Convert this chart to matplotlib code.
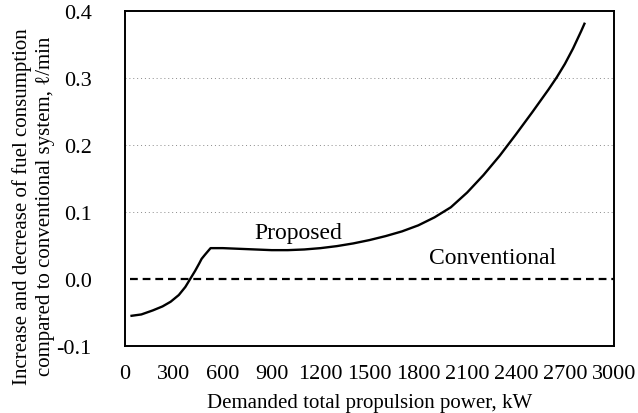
import matplotlib
matplotlib.use("Agg")
import matplotlib.pyplot as plt

plt.rcParams['font.family'] = ['Liberation Serif', 'DejaVu Serif']

# Demanded total propulsion power, kW
power_proposed = [40, 100, 170, 230, 280, 330, 370, 400, 430, 455, 470, 490, 525,
                  600, 700, 800, 900, 1000, 1100, 1200, 1300, 1400, 1500, 1600,
                  1700, 1800, 1900, 2000, 2100, 2200, 2300, 2400, 2500, 2550,
                  2600, 2650, 2700, 2750, 2800, 2820]
# Change of fuel consumption vs. conventional system, l/min
fuel_proposed = [-0.055, -0.053, -0.047, -0.041, -0.034, -0.024, -0.012, 0.0,
                 0.012, 0.023, 0.030, 0.036, 0.046, 0.046, 0.045, 0.044, 0.043,
                 0.043, 0.044, 0.046, 0.049, 0.053, 0.058, 0.064, 0.071, 0.080,
                 0.092, 0.107, 0.129, 0.155, 0.184, 0.216, 0.249, 0.266, 0.283,
                 0.301, 0.321, 0.344, 0.370, 0.381]

power_conventional = [30, 3000]
fuel_conventional = [0.0, 0.0]

x_ticks = [0, 300, 600, 900, 1200, 1500, 1800, 2100, 2400, 2700, 3000]
y_ticks = [-0.1, 0.0, 0.1, 0.2, 0.3, 0.4]
y_tick_labels = ['-0.1', '0.0', '0.1', '0.2', '0.3', '0.4']
grid_levels = [0.1, 0.2, 0.3]

fig = plt.figure(figsize=(6.38, 4.14), dpi=100)
ax = fig.add_axes([0.196, 0.162, 0.766, 0.809])

for g in grid_levels:
    ax.axhline(g, color='#8a8a8a', lw=0.7, linestyle=(0, (1, 3)), zorder=1)

ax.plot(power_conventional, fuel_conventional, color='black', lw=1.6,
        dashes=[3.5, 2.2], zorder=2)
ax.plot(power_proposed, fuel_proposed, color='black', lw=1.7, zorder=3,
        solid_joinstyle='round')

ax.text(1064, 0.070, 'Proposed', fontsize=17, ha='center', va='center')
ax.text(2258, 0.032, 'Conventional', fontsize=17, ha='center', va='center')

ax.set_xlim(0, 3000)
ax.set_ylim(-0.1, 0.4)
ax.set_xticks(x_ticks)
ax.set_xticklabels([str(t) for t in x_ticks])
ax.set_yticks(y_ticks)
ax.set_yticklabels(y_tick_labels)
ax.tick_params(axis='both', length=0, labelsize=16)
ax.tick_params(axis='x', pad=13)
ax.tick_params(axis='y', pad=24)

for s in ax.spines.values():
    s.set_linewidth(1.4)

ax.set_xlabel('Demanded total propulsion power, kW', fontsize=15, labelpad=7)
ax.set_ylabel('Increase and decrease of fuel consumption\n'
              'compared to conventional system, \u2113/min',
              fontsize=15, linespacing=1.3)
ax.yaxis.set_label_coords(-0.188, 0.42)
ax.yaxis.label.set_va('center')

fig.savefig('out.png', dpi=100)
